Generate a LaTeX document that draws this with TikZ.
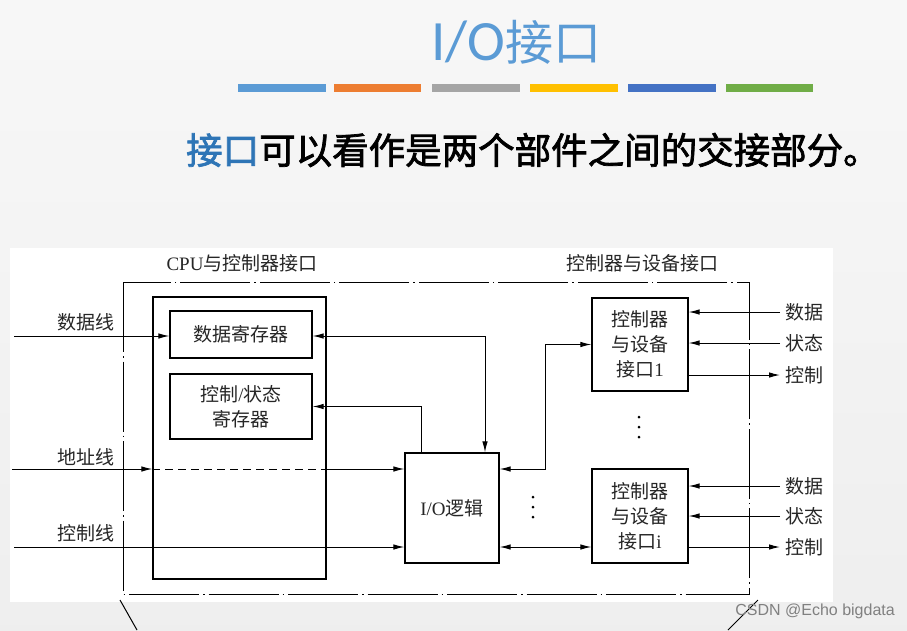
\documentclass[tikz,border=0pt]{standalone}
\usepackage{fontspec}
\setmainfont{Liberation Serif}
\newfontfamily\cjk{Noto Sans CJK SC}
\newfontfamily\cjkheavy{Noto Sans CJK SC}[FakeBold=2]
\newfontfamily\wmfont{Liberation Sans}
\newfontfamily\titlefont{Carlito}
\usetikzlibrary{arrows.meta}

\definecolor{barblue}{HTML}{5B9BD5}
\definecolor{barorange}{HTML}{ED7D31}
\definecolor{bargray}{HTML}{A5A5A5}
\definecolor{baryellow}{HTML}{FFC000}
\definecolor{bardark}{HTML}{4472C4}
\definecolor{bargreen}{HTML}{70AD47}
\definecolor{keyblue}{HTML}{2E75B6}
\definecolor{stroke}{HTML}{2A9D80}

\tikzset{
  box/.style={draw, line width=1.3pt, inner sep=0pt, align=center},
  lbl/.style={font=\cjk\fontsize{19}{25}\selectfont, text=black!85, inner sep=0pt, align=center},
  arr/.style={line width=1pt, -{Latex[length=11pt,width=5.5pt]}},
  arrboth/.style={line width=1pt, {Latex[length=11pt,width=5.5pt]}-{Latex[length=11pt,width=5.5pt]}},
  frame/.style={line width=1pt, dash pattern=on 70pt off 4pt on 1.5pt off 4pt},
  hidden/.style={line width=1pt, dash pattern=on 8pt off 5pt},
}

\begin{document}
\begin{tikzpicture}[x=1pt, y=-1pt]

    % page
    \useasboundingbox (0,0) rectangle (907,630);
    \shade[top color=gray!6, bottom color=gray!13] (0,0) rectangle (907,630);

    % heading
    \node[text=barblue, anchor=west, inner sep=0pt] (title) at (431,42)
      {{\titlefont\fontsize{57}{60}\selectfont I/O}{\cjk\fontsize{48}{52}\selectfont 接口}};
    \fill[barblue]    (238,84) rectangle (326,92);
    \fill[barorange]  (334,84) rectangle (421,92);
    \fill[bargray]    (432,84) rectangle (520,92);
    \fill[baryellow]  (530,84) rectangle (618,92);
    \fill[bardark]    (628,84) rectangle (716,92);
    \fill[bargreen]   (726,84) rectangle (813,92);
    \node[anchor=west, inner sep=0pt, font=\cjkheavy\fontsize{36.5}{40}\selectfont] (subtitle) at (186,150)
      {\textcolor{keyblue}{接口}可以看作是两个部件之间的交接部分。};

    % diagram sheet
    \fill[white] (10,248) rectangle (833,602);
    \draw[frame] (123,282) rectangle (749,594);
    \node[lbl] (cpul) at (242,263) {{\rmfamily CPU}与控制器接口};
    \node[lbl] (devl) at (642,263) {控制器与设备接口};

    % boxes
    \node[box, minimum width=173pt, minimum height=282pt] (cpubox) at (239.5,438) {};
    \node[box, lbl, draw, line width=1.3pt, minimum width=142pt, minimum height=47pt] (datareg) at (241,334.5) {数据寄存器};
    \node[box, lbl, draw, line width=1.3pt, minimum width=142pt, minimum height=65pt] (ctrlreg) at (241,406.5) {控制{\rmfamily /}状态\\寄存器};
    \node[box, lbl, draw, line width=1.3pt, minimum width=94pt, minimum height=110pt] (iologic) at (452,508) {{\rmfamily I/O}逻辑};
    \node[box, lbl, draw, line width=1.3pt, minimum width=96pt, minimum height=93pt] (dev1) at (640,344.5) {控制器\\与设备\\接口{\rmfamily 1}};
    \node[box, lbl, draw, line width=1.3pt, minimum width=96pt, minimum height=94pt] (devi) at (640,516) {控制器\\与设备\\接口{\rmfamily i}};

    % system bus side
    \coordinate (datain) at (14,336);
    \coordinate (addrin) at (12,469);
    \coordinate (ctrlin) at (14,547);
    \node[lbl] (datal) at (86,322) {数据线};
    \node[lbl] (addrl) at (86,457) {地址线};
    \node[lbl] (ctrll) at (86,533) {控制线};
    \draw[arr] (datain) -- (datain -| datareg.west);
    \draw[arr] (addrin) -- (addrin -| cpubox.west);
    \draw[hidden] (addrin -| cpubox.west) -- (addrin -| cpubox.east);
    \draw[arr] (addrin -| cpubox.east) -- (addrin -| iologic.west);
    \draw[arr] (ctrlin) -- (ctrlin -| iologic.west);

    % registers <-> I/O logic
    \draw[arrboth] (datareg.east |- datain) -| ([xshift=33pt]iologic.north);
    \draw[arr] ([xshift=-31pt]iologic.north) |- (ctrlreg.east);

    % I/O logic <-> device interfaces
    \draw[arrboth] (iologic.east |- addrin) -- ++(46,0) |- (dev1.west);
    \draw[arrboth] (iologic.east |- ctrlin) -- (devi.west |- ctrlin);
    \foreach \y in {497,507,517} \fill (533,\y) circle (1.5pt);
    \foreach \y in {417,427,437} \fill (639,\y) circle (1.5pt);

    % device side
    \node[lbl, anchor=west, inner xsep=5pt] (d1data) at (780,312) {数据};
    \node[lbl, anchor=west, inner xsep=5pt] (d1stat) at (780,343) {状态};
    \node[lbl, anchor=west, inner xsep=5pt] (d1ctrl) at (780,375) {控制};
    \node[lbl, anchor=west, inner xsep=5pt] (didata) at (780,486) {数据};
    \node[lbl, anchor=west, inner xsep=5pt] (distat) at (780,516) {状态};
    \node[lbl, anchor=west, inner xsep=5pt] (dictrl) at (780,547) {控制};
    \draw[arr] (d1data.west) -- (d1data.west -| dev1.east);
    \draw[arr] (d1stat.west) -- (d1stat.west -| dev1.east);
    \draw[arr] (d1ctrl.west -| dev1.east) -- (d1ctrl.west);
    \draw[arr] (didata.west) -- (didata.west -| devi.east);
    \draw[arr] (distat.west) -- (distat.west -| devi.east);
    \draw[arr] (dictrl.west -| devi.east) -- (dictrl.west);

    % slide strokes and mark
    \draw[stroke, line width=1pt] (120,600) -- (137,630);
    \draw[stroke, line width=1pt] (758,600) -- (728,630);
    \node[text=black!50, font=\wmfont\fontsize{16}{18}\selectfont, anchor=east, inner sep=0pt] (mark) at (895,611) {CSDN @Echo bigdata};

\end{tikzpicture}
\end{document}
